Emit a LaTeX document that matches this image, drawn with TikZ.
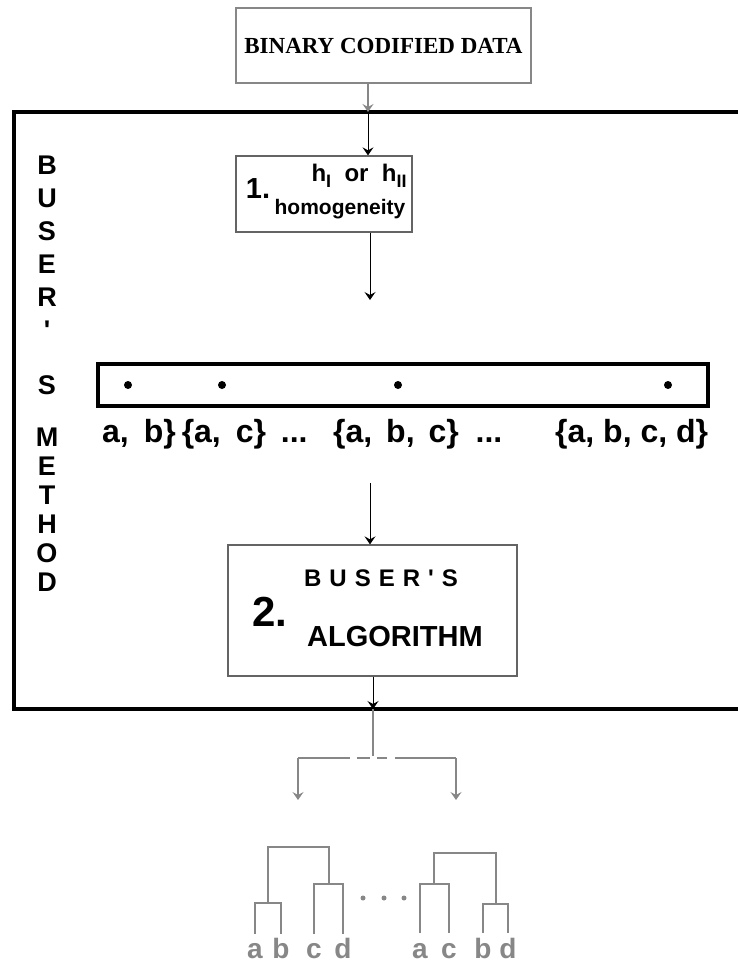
\documentclass[tikz,border=0pt]{standalone}
\usepackage{fontspec}
\setmainfont{Liberation Sans}
\newfontfamily\timesfont{Liberation Serif}
\usetikzlibrary{arrows.meta}

\definecolor{boxgray}{RGB}{100,100,100}
\definecolor{treegray}{RGB}{135,135,135}

\tikzset{
  stepbox/.style={draw=boxgray, line width=1.3pt, inner sep=0pt},
  flow/.style={line width=0.9pt, -{Stealth[length=8pt,width=11pt,inset=3pt]}},
  grayflow/.style={treegray, line width=1.2pt, -{Stealth[length=8pt,width=11pt,inset=3pt]}},
  tree/.style={treegray, line width=2.6pt},
  sideletter/.style={font=\fontsize{27}{27}\selectfont\bfseries, inner sep=0pt},
  setlabel/.style={font=\fontsize{32}{32}\selectfont\bfseries, inner sep=0pt},
  leaf/.style={font=\fontsize{28}{28}\selectfont\bfseries, text=treegray, inner sep=0pt, anchor=base},
}

\begin{document}
\begin{tikzpicture}[x=1pt,y=1pt,yscale=-1]
\useasboundingbox (0,0) rectangle (738,963);

%Shape: input box
\node[draw=treegray, line width=2pt, minimum width=295pt, minimum height=75pt, inner sep=0pt] (data) at (383.5,45.5) {\fontsize{23}{23}\selectfont\timesfont\bfseries BINARY CODIFIED DATA};

%Shape: method frame
\draw[line width=3.5pt] (745,112) -- (14,112) -- (14,709) -- (745,709);
\coordinate (inTop) at (368,112);
\coordinate (outBot) at (373,709);

%Shape: step 1
\node[stepbox, minimum width=176pt, minimum height=76pt] (step1) at (324,194) {};
% Text Node
\node[font=\fontsize{29}{29}\selectfont\bfseries, inner sep=0pt] (one) at (258,189) {1.};
% Text Node
\node[font=\fontsize{24}{24}\selectfont\bfseries, inner sep=0pt] (hlab) at (359,176) {h\raisebox{-6pt}{\fontsize{18}{18}\selectfont I}\ \ or\ \ h\raisebox{-6pt}{\fontsize{18}{18}\selectfont II}};
% Text Node
\node[font=\fontsize{21}{21}\selectfont\bfseries, inner sep=0pt] (homog) at (340,209) {homogeneity};

%Shape: subsets bar
\node[draw, line width=3.5pt, minimum width=610pt, minimum height=42pt, inner sep=0pt] (bar) at (403,385) {};
\foreach \dx/\nm in {128/da,222/db,398/dc,668/dd}
  \fill (\dx,385) circle (4pt) coordinate (\nm);
\coordinate (barIn) at (370,300);

% Text Node
\node[setlabel, anchor=west] (s1) at (102,434) {a,\hspace{6pt} b\}\hspace{6pt}\{a,\hspace{6pt} c\}\hspace{6pt} ...};
% Text Node
\node[setlabel, anchor=west] (s2) at (333,434) {\{a,\hspace{5pt} b,\hspace{5pt} c\}\hspace{8pt} ...};
% Text Node
\node[setlabel, anchor=west] (s3) at (555,434) {\{a, b, c, d\}};
\coordinate (algIn) at (370,483);

%Shape: step 2
\node[stepbox, minimum width=289pt, minimum height=131pt] (step2) at (372.5,610.5) {};
% Text Node
\node[font=\fontsize{42}{42}\selectfont\bfseries, inner sep=0pt] (two) at (270,612) {2.};
% Text Node
\node[font=\fontsize{24}{24}\selectfont\bfseries, inner sep=0pt] (buser) at (381,578) {B\,\,U\,\,S\,\,E\,\,R\,\,\textquotesingle\,\,S};
% Text Node
\node[font=\fontsize{29}{29}\selectfont\bfseries, inner sep=0pt] (algo) at (395,637) {ALGORITHM};

% side title
\foreach \ch/\yy in {B/165,U/198,S/231,E/264,R/297,\textquotesingle/330,S/385,M/437,E/466,T/495,H/524,O/553,D/582}
  \node[sideletter] at (47,\yy) {\ch};

%Straight Lines
\draw[grayflow] (data.south -| inTop) -- (inTop);
\draw[flow] (inTop) -- (step1.north -| inTop);
\draw[flow] (step1.south -| barIn) -- (barIn);
\draw[flow] (algIn) -- (step2.north -| algIn);
\draw[flow] (step2.south -| outBot) -- (outBot);

%Split into dendrograms
\coordinate (split) at (373,756);
\coordinate (leftOut) at (298,758);
\coordinate (rightOut) at (456,758);
\draw[treegray, line width=1.2pt] (outBot) -- (split);
\draw[treegray, line width=1.2pt] (leftOut) -- (350,758) (357,758) -- (370,758) (377,758) -- (387,758) (395,758) -- (rightOut);
\draw[grayflow] (leftOut) -- (298,800);
\draw[grayflow] (rightOut) -- (456,800);

%Dendrogram 1
\draw[tree] (255,934) |- (281,903) -- (281,934);
\draw[tree] (314,934) |- (343,884) -- (343,934);
\draw[tree] (268,903) |- (329,847) -- (329,884);
\foreach \x/\l in {255/a,281/b,314/c,343/d}
  \node[leaf] (l1\l) at (\x,958) {\l};

%Dendrogram 2
\draw[tree] (420,933) |- (449,884) -- (449,933);
\draw[tree] (483,933) |- (508,904) -- (508,933);
\draw[tree] (434,884) |- (496,853) -- (496,904);
\foreach \x/\l in {420/a,449/c,483/b,508/d}
  \node[leaf] (l2\l) at (\x,958) {\l};

% dots between trees
\foreach \x in {363,384,404}
  \fill[treegray] (\x,898) circle (2.5pt);
\end{tikzpicture}
\end{document}
